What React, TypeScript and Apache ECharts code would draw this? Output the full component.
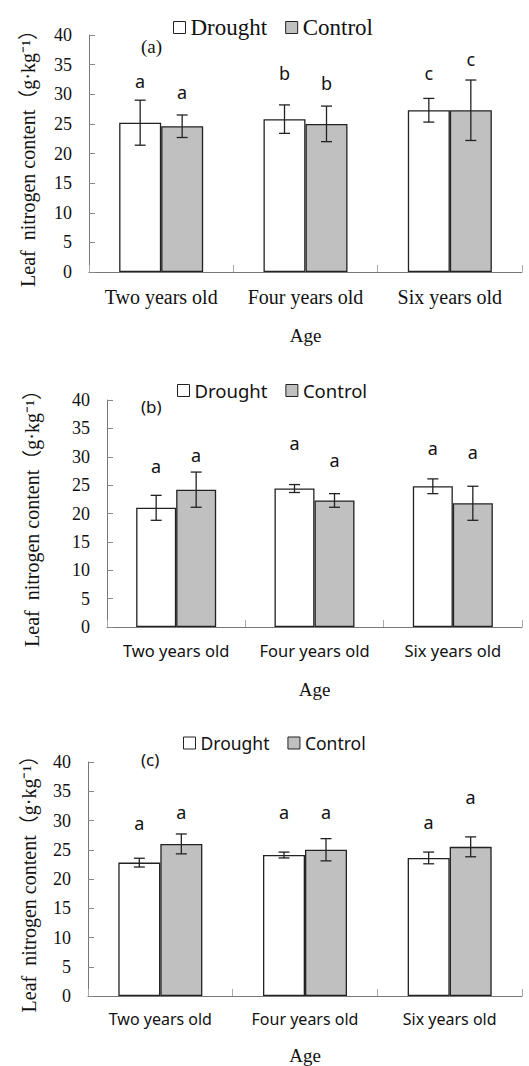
import React, { useEffect, useRef } from "react";
import * as echarts from "echarts";

const categories = ["Two years old", "Four years old", "Six years old"];
const yMin = 0;
const yMax = 40;
const yInterval = 5;

// Panel (a)
const droughtA = [25.2, 25.8, 27.3];
const droughtErrA = [3.8, 2.4, 2.0];
const controlA = [24.6, 25.0, 27.3];
const controlErrA = [1.9, 3.0, 5.1];
const droughtLettersA = ["a", "b", "c"];
const controlLettersA = ["a", "b", "c"];
const droughtLetterYA = [32.2, 33.6, 33.6];
const controlLetterYA = [30.4, 31.9, 35.9];

// Panel (b)
const droughtB = [21.0, 24.4, 24.8];
const droughtErrB = [2.2, 0.7, 1.3];
const controlB = [24.2, 22.3, 21.8];
const controlErrB = [3.1, 1.2, 3.0];
const droughtLettersB = ["a", "a", "a"];
const controlLettersB = ["a", "a", "a"];
const droughtLetterYB = [28.4, 32.4, 31.5];
const controlLetterYB = [30.3, 29.4, 30.9];

// Panel (c)
const droughtC = [22.8, 24.1, 23.6];
const droughtErrC = [0.75, 0.5, 1.0];
const controlC = [26.0, 25.0, 25.5];
const controlErrC = [1.7, 1.9, 1.7];
const droughtLettersC = ["a", "a", "a"];
const controlLettersC = ["a", "a", "a"];
const droughtLetterYC = [29.5, 31.4, 29.8];
const controlLetterYC = [31.4, 31.4, 34.1];

const panelLabels = ["(a)", "(b)", "(c)"];
const xName = "Age";
const yName = "Leaf  nitrogen content（g·kg⁻¹）";
const legendNames = ["Drought", "Control"];

const SERIF = "Liberation Serif";
const SERIF_CJK = "Liberation Serif, Noto Sans CJK SC";
const SANS = "Noto Sans";

export default function App() {
  const ref = useRef<HTMLDivElement>(null);
  useEffect(() => {
    if (!ref.current) return;
    const chart = echarts.init(ref.current, null, { renderer: "svg" });

    const panels = [
      {
        d: droughtA, de: droughtErrA, c: controlA, ce: controlErrA,
        dl: droughtLettersA, cl: controlLettersA, dly: droughtLetterYA, cly: controlLetterYA,
        grid: { left: 89, right: 7, top: 35, height: 237 }, bw: 42,
        xFont: SERIF, xSize: 20, legendFont: SERIF, legendSize: 23, legendLeft: 168, legendTop: 11,
        labelFont: SERIF, labelSize: 19, labelPos: [141, 37], yNameGap: 51, xNameGap: 54,
      },
      {
        d: droughtB, de: droughtErrB, c: controlB, ce: controlErrB,
        dl: droughtLettersB, cl: controlLettersB, dly: droughtLetterYB, cly: controlLetterYB,
        grid: { left: 107, right: 7, top: 400, height: 227 }, bw: 40,
        xFont: SANS, xSize: 16.5, legendFont: SANS, legendSize: 18.5, legendLeft: 172, legendTop: 376,
        labelFont: SANS, labelSize: 17, labelPos: [141, 398], yNameGap: 65, xNameGap: 53,
      },
      {
        d: droughtC, de: droughtErrC, c: controlC, ce: controlErrC,
        dl: droughtLettersC, cl: controlLettersC, dly: droughtLetterYC, cly: controlLetterYC,
        grid: { left: 88, right: 7, top: 762, height: 238 }, bw: 42,
        xFont: SANS, xSize: 16, legendFont: SANS, legendSize: 17.5, legendLeft: 178, legendTop: 729,
        labelFont: SANS, labelSize: 17, labelPos: [141, 751], yNameGap: 49, xNameGap: 50,
      },
    ];

    const grids: any[] = [];
    const xAxes: any[] = [];
    const yAxes: any[] = [];
    const legends: any[] = [];
    const series: any[] = [];
    const graphics: any[] = [];

    panels.forEach((p, i) => {
      grids.push({ ...p.grid, containLabel: false });
      xAxes.push({
        type: "category",
        gridIndex: i,
        data: categories,
        name: xName,
        nameLocation: "middle",
        nameGap: p.xNameGap,
        nameTextStyle: { fontFamily: SERIF, fontSize: 19, color: "#111" },
        axisLine: { lineStyle: { color: "#777", width: 1 } },
        axisTick: { show: true, inside: true, length: 7, lineStyle: { color: "#aaa" } },
        axisLabel: { fontFamily: p.xFont, fontSize: p.xSize, color: "#111", margin: 15, interval: 0 },
        splitLine: { show: false },
      });
      yAxes.push({
        type: "value",
        gridIndex: i,
        min: yMin,
        max: yMax,
        interval: yInterval,
        name: yName,
        nameLocation: "middle",
        nameRotate: 90,
        nameGap: p.yNameGap,
        nameTextStyle: { fontFamily: SERIF_CJK, fontSize: 20, color: "#111" },
        axisLine: { show: true, lineStyle: { color: "#777", width: 1 } },
        axisTick: { show: true, inside: true, length: 6, lineStyle: { color: "#888" } },
        axisLabel: { fontFamily: SERIF, fontSize: 18, color: "#111", margin: 17 },
        splitLine: { show: false },
      });
      legends.push({
        data: legendNames,
        left: p.legendLeft,
        top: p.legendTop,
        icon: "rect",
        itemWidth: 12,
        itemHeight: 12,
        itemGap: 18,
        itemStyle: { borderColor: "#222", borderWidth: 1 },
        textStyle: { fontFamily: p.legendFont, fontSize: p.legendSize, color: "#111" },
        selectedMode: false,
      });
      series.push({
        type: "bar",
        name: "Drought",
        xAxisIndex: i,
        yAxisIndex: i,
        data: p.d,
        barWidth: p.bw,
        barGap: "0%",
        itemStyle: { color: "#ffffff", borderColor: "#222", borderWidth: 1.3 },
        z: 2,
      });
      series.push({
        type: "bar",
        name: "Control",
        xAxisIndex: i,
        yAxisIndex: i,
        data: p.c,
        barWidth: p.bw,
        barGap: "0%",
        itemStyle: { color: "#c0c0c0", borderColor: "#222", borderWidth: 1.3 },
        z: 2,
      });
      const makeErr = (vals: number[], errs: number[], letters: string[], ly: number[], side: number) => ({
        type: "custom",
        name: "err" + i + side,
        xAxisIndex: i,
        yAxisIndex: i,
        data: vals.map((v, k) => [k, v]),
        encode: { x: 0, y: 1 },
        z: 5,
        clip: false,
        renderItem: (params: any, api: any) => {
          const k = params.dataIndex;
          const off = side === 0 ? -p.bw / 2 : p.bw / 2;
          const top = api.coord([k, vals[k] + errs[k]]);
          const bot = api.coord([k, vals[k] - errs[k]]);
          const lp = api.coord([k, ly[k]]);
          const x = top[0] + off;
          const cap = 5.5;
          const ls = { stroke: "#222", lineWidth: 1.3 };
          return {
            type: "group",
            children: [
              { type: "line", shape: { x1: x, y1: top[1], x2: x, y2: bot[1] }, style: ls },
              { type: "line", shape: { x1: x - cap, y1: top[1], x2: x + cap, y2: top[1] }, style: ls },
              { type: "line", shape: { x1: x - cap, y1: bot[1], x2: x + cap, y2: bot[1] }, style: ls },
              {
                type: "text",
                x: x,
                y: lp[1],
                style: {
                  text: letters[k],
                  fill: "#111",
                  fontFamily: SANS,
                  fontSize: 18,
                  align: "center",
                  verticalAlign: "middle",
                },
              },
            ],
          };
        },
      });
      series.push(makeErr(p.d, p.de, p.dl, p.dly, 0));
      series.push(makeErr(p.c, p.ce, p.cl, p.cly, 1));
      graphics.push({
        type: "text",
        left: p.labelPos[0],
        top: p.labelPos[1],
        style: { text: panelLabels[i], fill: "#111", fontFamily: p.labelFont, fontSize: p.labelSize },
      });
    });

    chart.setOption({
      animation: false,
      backgroundColor: "#ffffff",
      grid: grids,
      xAxis: xAxes,
      yAxis: yAxes,
      legend: legends,
      series,
      graphic: graphics,
    });
    return () => chart.dispose();
  }, []);
  return (
    <div
      ref={ref}
      style={{ position: "absolute", left: 0, top: 0, width: 529, height: 1066, background: "#fff" }}
    />
  );
}
